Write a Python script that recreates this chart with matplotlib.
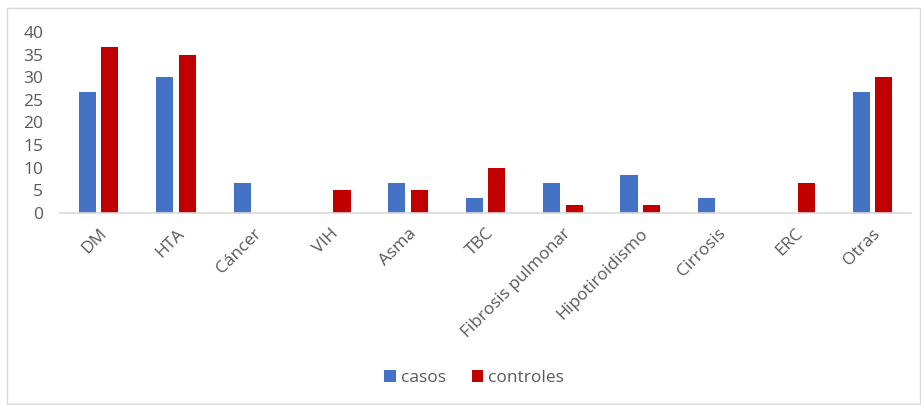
import numpy as np
import matplotlib.pyplot as plt
from matplotlib.patches import Rectangle

plt.rcParams['font.family'] = ['Open Sans', 'DejaVu Sans']

categorias = ['DM', 'HTA', 'Cáncer', 'VIH', 'Asma', 'TBC', 'Fibrosis pulmonar',
              'Hipotiroidismo', 'Cirrosis', 'ERC', 'Otras']
casos = [26.7, 30.0, 6.7, 0, 6.7, 3.3, 6.7, 8.3, 3.3, 0, 26.7]
controles = [36.7, 35.0, 0, 5.0, 5.0, 10.0, 1.7, 1.7, 0, 6.7, 30.0]

fig = plt.figure(figsize=(9.21, 4.05), dpi=100)
ax = fig.add_axes([60/921, 1 - 213/405, 851/921, 181/405])

# borde del area del grafico
fig.patches.append(Rectangle((7/921, 1/405), 913/921, 396/405, transform=fig.transFigure,
                             fill=False, edgecolor='#d9d9d9', linewidth=1))

x = np.arange(len(categorias))
w = 0.22
ax.bar(x - 0.145, casos, w, color='#4472C4', label='casos')
ax.bar(x + 0.145, controles, w, color='#C00000', label='controles')

ax.set_xlim(-0.5, len(categorias) - 0.5)
ax.set_ylim(0, 40)
ax.set_yticks(range(0, 41, 5))
ax.set_xticks(x)
ax.set_xticklabels(categorias, rotation=45, ha='right', rotation_mode='anchor',
                   color='#595959', fontsize=12.5)
ax.tick_params(axis='y', colors='#595959', labelsize=12.5, length=0, pad=12)
ax.tick_params(axis='x', length=0, pad=9)

for s in ['top', 'right', 'left']:
    ax.spines[s].set_visible(False)
ax.spines['bottom'].set_color('#d9d9d9')
ax.spines['bottom'].set_linewidth(1.2)

fig.legend(loc='center', bbox_to_anchor=(0.515, 1 - 378/405), ncol=2, frameon=False,
           fontsize=12.5, handlelength=0.65, handleheight=0.65, handletextpad=0.3,
           columnspacing=1.5, labelcolor='#595959')

fig.savefig('out.png', dpi=100)
